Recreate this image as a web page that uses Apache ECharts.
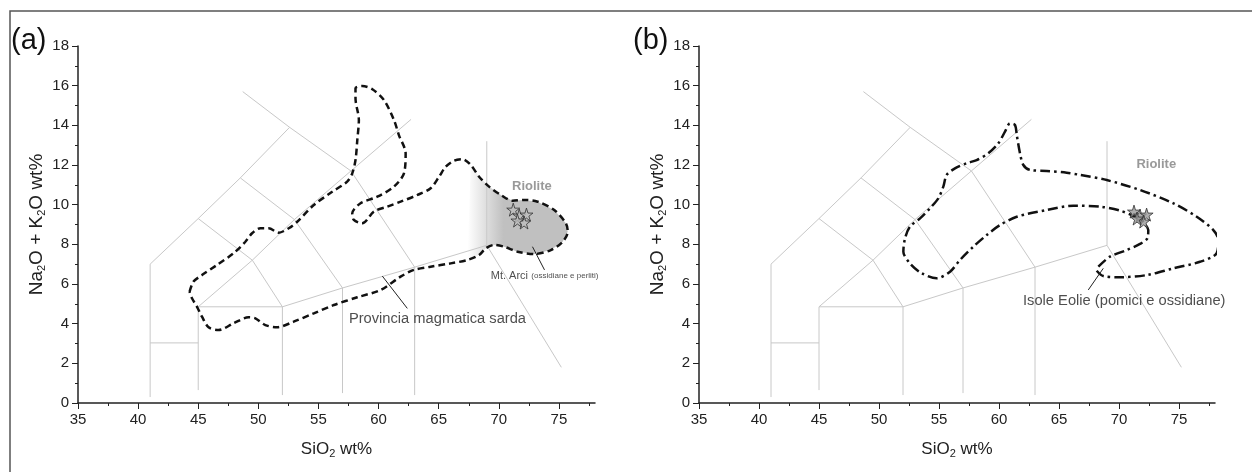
<!DOCTYPE html>
<html>
<head>
<meta charset="utf-8">
<script src="https://cdn.jsdelivr.net/npm/echarts@6/dist/echarts.min.js"></script>
<style>
  html, body { margin: 0; padding: 0; background: #fff; }
  #chart { width: 1252px; height: 472px; }
</style>
</head>
<body>
<div id="chart"></div>
<script>
// tick values
const xMajorTicks = [35, 40, 45, 50, 55, 60, 65, 70, 75];
const xMinorTicks = [37.5, 42.5, 47.5, 52.5, 57.5, 62.5, 67.5, 72.5, 77.5];

// TAS field boundaries (SiO2, Na2O+K2O)
const tasLines = [
  [[41, 0.3], [41, 7], [45, 9.3], [48.5, 11.35], [52.6, 13.9]],
  [[48.7, 15.7], [52.6, 13.9], [57.7, 11.7], [63, 6.85]],
  [[41, 3.03], [45, 3.03]],
  [[45, 0.65], [45, 4.85], [52, 4.85], [52, 0.4]],
  [[52, 4.85], [57, 5.8], [63, 6.85], [69, 7.95], [69, 13.2]],
  [[57, 5.8], [57, 0.5]],
  [[63, 6.85], [63, 0.4]],
  [[69, 7.95], [75.2, 1.8]],
  [[45, 4.85], [49.5, 7.2], [53, 9.25], [57.7, 11.7], [62.7, 14.3]],
  [[45, 9.3], [49.5, 7.2], [52, 4.85]],
  [[48.5, 11.35], [53, 9.25], [57, 5.8]]
];

// (a) Provincia magmatica sarda
const sardaContour = [
  [44.28, 5.61], [44.61, 6.12], [45.31, 6.45], [46.56, 6.96], [47.94, 7.55], [48.92, 8.13],
  [49.48, 8.56], [50.17, 8.81], [50.86, 8.81], [51.69, 8.59], [52.53, 8.81], [53.23, 9.14],
  [54.61, 9.98], [56.14, 10.65], [57.39, 11.16], [57.81, 11.58], [58.08, 12.25], [58.23, 13.26],
  [58.36, 14.27], [58.08, 15.36], [58.08, 15.87], [58.64, 15.98], [59.48, 15.82], [60.44, 15.28],
  [61.28, 14.27], [61.69, 13.51], [62.25, 12.59], [62.11, 11.58], [61.28, 10.91], [59.89, 10.40],
  [58.5, 10.07], [57.81, 9.56], [57.94, 9.23], [58.64, 9.06], [59.61, 9.65], [60.73, 9.90],
  [61.83, 10.15], [63.23, 10.49], [64.33, 10.83], [65.03, 11.41], [65.58, 11.91], [66.28, 12.22],
  [66.98, 12.29], [67.67, 12.0], [68.36, 11.41], [69.19, 10.91], [70.17, 10.49], [71.14, 10.20],
  [72.11, 10.24], [73.23, 10.15], [74.61, 9.73], [75.58, 9.06], [75.73, 8.64], [75.31, 8.13],
  [74.33, 7.71], [72.94, 7.51], [71.56, 7.63], [70.44, 7.88], [69.61, 7.97], [68.92, 7.80],
  [68.36, 7.46], [67.39, 7.21], [66.0, 7.04], [64.33, 6.87], [62.94, 6.71], [61.83, 6.37],
  [60.17, 5.70], [58.23, 5.33], [56.28, 4.94], [54.61, 4.52], [52.94, 4.10], [51.56, 3.82],
  [50.58, 3.93], [49.75, 4.27], [49.19, 4.32], [47.94, 4.02], [46.69, 3.68], [45.86, 3.82],
  [45.31, 4.35], [44.89, 4.86], [44.48, 5.28], [44.28, 5.61]
];

// (b) Isole Eolie
const eolieContour = [
  [68.28, 6.87], [69.25, 7.38], [70.64, 7.71], [71.75, 8.02], [72.36, 8.30], [72.44, 8.72],
  [72.03, 9.09], [71.19, 9.43], [70.08, 9.70], [68.42, 9.90], [66.19, 9.95], [63.98, 9.73],
  [61.48, 9.39], [60.08, 8.97], [58.98, 8.47], [57.86, 7.88], [56.75, 7.21], [55.92, 6.62],
  [54.81, 6.29], [53.56, 6.54], [52.58, 7.04], [52.03, 7.63], [52.17, 8.30], [52.58, 8.89],
  [53.42, 9.31], [54.25, 9.82], [54.94, 10.32], [55.36, 10.91], [55.64, 11.50], [56.33, 11.83],
  [57.31, 12.09], [58.14, 12.25], [59.11, 12.59], [59.94, 13.09], [60.5, 13.68], [60.92, 14.10],
  [61.33, 14.02], [61.48, 13.51], [61.75, 12.59], [62.03, 12.0], [62.58, 11.75], [63.98, 11.70],
  [65.64, 11.61], [66.75, 11.50], [68.98, 11.24], [71.75, 10.74], [74.53, 10.07], [76.48, 9.39],
  [77.86, 8.72], [78.28, 8.22], [78.14, 7.55], [76.75, 7.12], [74.53, 6.79], [72.31, 6.45],
  [70.08, 6.34], [68.69, 6.40], [68.14, 6.67]
];

const arciStars = [[71.2, 9.75], [71.7, 9.45], [72.3, 9.5], [72.1, 9.1], [71.55, 9.2]];
const eolieStars = [[71.25, 9.65], [71.75, 9.45], [72.3, 9.5], [72.05, 9.15], [71.5, 9.3]];

// leader lines
const sardaLeader = [[60.31, 6.40], [62.39, 4.77]];
const arciLeader = [[72.8, 7.88], [73.8, 6.71]];
const eolieLeader = [[67.44, 5.70], [68.69, 6.79]];

const FONT = '"Liberation Sans", Arial, sans-serif';
const STAR = 'path://M50,0 L61,35 L98,35 L68,57 L79,91 L50,70 L21,91 L32,57 L2,35 L39,35 Z';
const chart = echarts.init(document.getElementById('chart'));

function polyline(data, p, style, z) {
  return {
    type: 'line', xAxisIndex: p, yAxisIndex: p, data: data,
    symbol: 'none', silent: true, clip: false, z: z || 2,
    lineStyle: style
  };
}

function textMark(p, pos, text, style) {
  return {
    type: 'scatter', xAxisIndex: p, yAxisIndex: p, data: [pos],
    symbolSize: 0, silent: true, z: 6,
    label: Object.assign({ show: true, position: 'right', distance: 0, formatter: text,
      fontFamily: FONT, color: '#222' }, style)
  };
}

const series = [];

// shaded Mt. Arci lobe
series.push({
  type: 'custom', xAxisIndex: 0, yAxisIndex: 0, data: [[70, 9]], silent: true, z: 1, clip: false,
  renderItem: function (params, api) {
    const pts = sardaContour.slice(43, 62).map(function (d) { return api.coord(d); });
    return {
      type: 'polygon', shape: { points: pts },
      style: {
        fill: new echarts.graphic.LinearGradient(0, 0, 1, 0, [
          { offset: 0, color: 'rgba(192,192,192,0)' },
          { offset: 0.36, color: 'rgba(192,192,192,1)' },
          { offset: 1, color: 'rgba(192,192,192,1)' }
        ])
      }
    };
  }
});

[0, 1].forEach(function (p) {
  tasLines.forEach(function (l) {
    series.push(polyline(l, p, { color: '#c8c8c8', width: 1 }, 2));
  });
});

const sardaLine = polyline(sardaContour, 0, { color: '#111', width: 2.5, type: [6.5, 4] }, 4);
sardaLine.smooth = 0.3;
series.push(sardaLine);
const eolieLine = polyline(eolieContour, 1, { color: '#111', width: 2.5, type: [10, 4, 2.5, 4] }, 4);
eolieLine.smooth = 0.3;
series.push(eolieLine);

series.push(polyline(sardaLeader, 0, { color: '#222', width: 1 }, 5));
series.push(polyline(arciLeader, 0, { color: '#222', width: 1 }, 5));
series.push(polyline(eolieLeader, 1, { color: '#222', width: 1 }, 5));

series.push({
  type: 'scatter', xAxisIndex: 0, yAxisIndex: 0, data: arciStars, symbol: STAR, symbolSize: 13,
  silent: true, z: 7, itemStyle: { color: '#bdbdbd', borderColor: '#333', borderWidth: 1 }
});
series.push({
  type: 'scatter', xAxisIndex: 1, yAxisIndex: 1, data: eolieStars, symbol: STAR, symbolSize: 13,
  silent: true, z: 7, itemStyle: { color: '#9a9a9a', borderColor: '#333', borderWidth: 1 }
});

series.push(textMark(0, [71.1, 10.9], 'Riolite', { color: '#808080', fontWeight: 'bold', fontSize: 13 }));
series.push(textMark(1, [71.45, 12.03], 'Riolite', { color: '#808080', fontWeight: 'bold', fontSize: 13 }));
series.push(textMark(0, [57.53, 4.22], 'Provincia magmatica sarda', { fontSize: 14.7 }));
series.push(textMark(0, [69.33, 6.42], '{m|Mt. Arci} {s|(ossidiane e perliti)}', {
  rich: { m: { fontSize: 11, fontFamily: FONT, color: '#222' }, s: { fontSize: 8, fontFamily: FONT, color: '#222' } }
}));
series.push(textMark(1, [62.0, 5.14], 'Isole Eolie (pomici e ossidiane)', { fontSize: 14.7 }));

const axisLine = { show: true, lineStyle: { color: '#222', width: 1.5 } };
const tickStyle = { color: '#222', width: 1 };
const subStyle = { fontSize: 11, fontFamily: FONT, color: '#222', padding: [9, 0, 0, 0] };

function xAxes(p) {
  return [{
    type: 'value', gridIndex: p, min: 35, max: 78, interval: 5, position: 'bottom',
    axisLine: axisLine,
    axisTick: { show: true, length: 6, customValues: xMajorTicks, lineStyle: tickStyle },
    axisLabel: { customValues: xMajorTicks, fontSize: 15, color: '#222', fontFamily: FONT, margin: 9 },
    splitLine: { show: false },
    name: 'SiO{s|2} wt%', nameLocation: 'middle', nameGap: 36,
    nameTextStyle: { fontSize: 17, color: '#222', fontFamily: FONT, rich: { s: subStyle } }
  }, {
    type: 'value', gridIndex: p, min: 35, max: 78, interval: 2.5, position: 'bottom',
    axisLine: { show: false },
    axisTick: { show: true, length: 3, customValues: xMinorTicks, lineStyle: tickStyle },
    axisLabel: { show: false },
    splitLine: { show: false }
  }];
}

function yAxis(p) {
  return {
    type: 'value', gridIndex: p, min: 0, max: 18, interval: 2,
    axisLine: axisLine,
    axisTick: { show: true, length: 6, lineStyle: tickStyle },
    minorTick: { show: true, splitNumber: 2, length: 3, lineStyle: tickStyle },
    axisLabel: { fontSize: 15, color: '#222', fontFamily: FONT, margin: 9 },
    splitLine: { show: false }, minorSplitLine: { show: false },
    name: 'Na{s|2}O + K{s|2}O wt%', nameLocation: 'middle', nameGap: 31,
    nameTextStyle: { fontSize: 19, color: '#222', fontFamily: FONT, rich: { s: subStyle } }
  };
}

const xa = xAxes(0), xb = xAxes(1);

chart.setOption({
  animation: false,
  backgroundColor: '#fff',
  grid: [
    { left: 78, top: 46, width: 517, height: 357 },
    { left: 699, top: 46, width: 516, height: 357 }
  ],
  xAxis: [xa[0], xb[0], xa[1], xb[1]],
  yAxis: [yAxis(0), yAxis(1)],
  graphic: [
    { type: 'rect', shape: { x: 10, y: 11, width: 1280, height: 500 },
      style: { fill: 'none', stroke: '#555', lineWidth: 1.5 }, silent: true },
    { type: 'text', left: 11, top: 26, style: { text: '(a)', fontSize: 29, fontFamily: FONT, fill: '#111' } },
    { type: 'text', left: 633, top: 26, style: { text: '(b)', fontSize: 29, fontFamily: FONT, fill: '#111' } }
  ],
  series: series
});
</script>
</body>
</html>
